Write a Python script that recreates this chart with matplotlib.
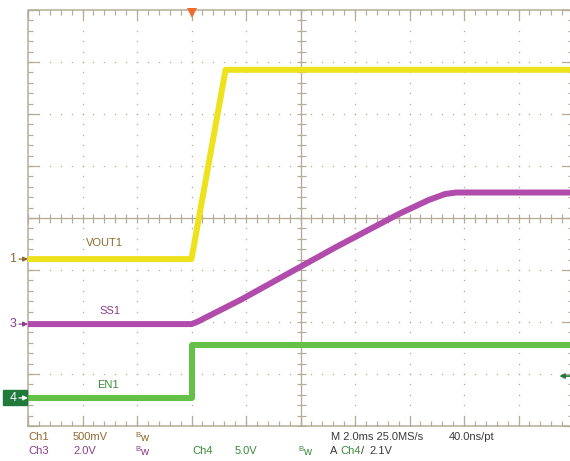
import numpy as np
import matplotlib.pyplot as plt
from matplotlib.patches import Rectangle
import matplotlib.transforms as mtransforms

plt.rcParams['font.family'] = ['Liberation Sans', 'DejaVu Sans']

W, H = 570, 461  # output size in pixels (dpi 100)

# %% Scope settings:
t_div = 2.0      # [ms/div]
t_left = -6.0    # [ms] at left edge of graticule, trigger at 0
ch_names = ['VOUT1', 'SS1', 'EN1']
ch_number = ['1', '3', '4']
ch_scale = [0.5, 2.0, 5.0]          # [V/div] Ch1, Ch3, Ch4
ch_offset = [-0.79, -2.04, -3.46]   # [div] ground markers
trig_level = 2.1                    # [V] on Ch4

# %% Traces:
t_vout = [-6.0, 0.0, 1.25, 14.2]
v_vout = [0.0, 0.0, 1.82, 1.82]
t_ss = [-6.0, 0.0, 0.2, 1.8, 5.3, 7.6, 8.7, 9.3, 9.7, 14.2]
v_ss = [0.0, 0.0, 0.08, 0.93, 2.96, 4.23, 4.77, 5.0, 5.06, 5.06]
t_en = [-6.0, 0.0, 0.0, 14.2]
v_en = [0.0, 0.0, 5.1, 5.1]

# label positions: time [ms], height above ground [div]
lab_t = [-3.2, -3.0, -3.05]
lab_dy = [0.31, 0.25, 0.25]

# %% Colours:
trace_col = ['#eee21c', '#b24cac', '#64c046']
text_col = ['#8f6a2e', '#8c3c8c', '#3a8a3a']
grid_col = '#b4ac96'
dark = '#3a3a3a'

fig = plt.figure(figsize=(W/100, H/100), dpi=100)
fig.patch.set_facecolor('white')

# graticule: left 28 px, top 10 px, 54.5 px/div, 52 px/div
ax = fig.add_axes([28/W, 1 - 426/H, 545/W, 416/H])
ax.set_xlim(t_left, t_left + 10*t_div)
ax.set_ylim(-4, 4)
ax.axis('off')

def px(p):
    return p*0.72  # pixels -> points

xs_major = t_left + t_div*np.arange(11)
ys_major = np.arange(-4, 5)
xs_minor = t_left + t_div*np.arange(0, 10.001, 0.2)
ys_minor = np.arange(-4, 4.001, 0.2)
t_center = t_left + 5*t_div

# dotted grid lines
for x in xs_major[1:-1]:
    if x != t_center:
        ax.plot(np.full_like(ys_minor, x), ys_minor, ls='none', marker='s',
                ms=px(1.3), mew=0, color=grid_col)
for y in ys_major[1:-1]:
    if y != 0:
        ax.plot(xs_minor, np.full_like(xs_minor, y), ls='none', marker='s',
                ms=px(1.3), mew=0, color=grid_col)

# centre cross with ticks
ax.axhline(0, color=grid_col, lw=px(1.3))
ax.axvline(t_center, color=grid_col, lw=px(1.3))
ax.plot(np.full_like(ys_minor, t_center), ys_minor, ls='none', marker='_',
        ms=px(9), mew=px(1.2), color=grid_col)
ax.plot(xs_minor, np.zeros_like(xs_minor), ls='none', marker='|',
        ms=px(9), mew=px(1.2), color=grid_col)

# border with inward ticks
ax.plot([xs_major[0], xs_major[-1], xs_major[-1], xs_major[0], xs_major[0]],
        [-4, -4, 4, 4, -4], color=grid_col, lw=px(1.5), clip_on=False)
for xx, mk in [(xs_minor, 5), (xs_major, 10)]:
    ax.plot(xx, np.full_like(xx, 4.0), ls='none', marker=3, ms=px(mk),
            mew=px(1.2), color=grid_col, clip_on=False)
    ax.plot(xx, np.full_like(xx, -4.0), ls='none', marker=2, ms=px(mk),
            mew=px(1.2), color=grid_col, clip_on=False)
for yy, mk in [(ys_minor, 5), (ys_major, 11)]:
    ax.plot(np.full_like(yy, xs_major[0]), yy, ls='none', marker=1, ms=px(mk),
            mew=px(1.2), color=grid_col, clip_on=False)
    ax.plot(np.full_like(yy, xs_major[-1]), yy, ls='none', marker=0, ms=px(mk),
            mew=px(1.2), color=grid_col, clip_on=False)

# %% Traces:
traces = [(t_vout, v_vout), (t_ss, v_ss), (t_en, v_en)]
for i, (t, v) in enumerate(traces):
    y = np.array(v)/ch_scale[i] + ch_offset[i]
    ax.plot(t, y, color=trace_col[i], lw=px(6), solid_capstyle='butt',
            solid_joinstyle='round', zorder=5)
    ax.text(lab_t[i], ch_offset[i] + lab_dy[i], ch_names[i], color=text_col[i],
            fontsize=8, ha='center', va='center', zorder=6)

# channel ground markers on the left
trans = mtransforms.blended_transform_factory(ax.transAxes, ax.transData)
ax.add_patch(Rectangle((3/W, 1 - 405/H), 24/W, 15/H, transform=fig.transFigure,
                       color='#1f7a3c', clip_on=False, zorder=8))
for i in range(3):
    c = 'white' if i == 2 else text_col[i]
    ax.annotate('', xy=(0, ch_offset[i]), xycoords=trans,
                xytext=(-9, 0), textcoords='offset pixels',
                arrowprops=dict(arrowstyle='-|>', color=c, lw=0.9,
                                mutation_scale=7, shrinkA=0, shrinkB=0),
                zorder=9)
    ax.annotate(ch_number[i], xy=(0, ch_offset[i]), xycoords=trans,
                xytext=(-15, 0), textcoords='offset pixels', color=c,
                fontsize=9, ha='center', va='center', zorder=9)

# trigger position and level
ax.plot([0.0], [4 - 3.5/52], marker='v', ms=px(10), mew=0, color='#f26a2a',
        clip_on=False, zorder=7)
ax.annotate('', xy=(0.975, trig_level/ch_scale[2] + ch_offset[2]), xycoords=trans,
            xytext=(11, 0), textcoords='offset pixels',
            arrowprops=dict(arrowstyle='-|>', color='#1f7a3c', lw=1.2,
                            mutation_scale=7, shrinkA=0, shrinkB=0))

# %% Readout at the bottom:
bw = r'$\mathregular{^{B}w}$'
readout = [
    (28, 437, 'Ch1', text_col[0]), (73, 437, '500mV', text_col[0]),
    (135, 437, bw, text_col[0]),
    (331, 437, 'M 2.0ms 25.0MS/s', dark), (449, 437, '40.0ns/pt', dark),
    (28, 451, 'Ch3', text_col[1]), (73, 451, '2.0V', text_col[1]),
    (135, 451, bw, text_col[1]),
    (192, 451, 'Ch4', text_col[2]), (235, 451, '5.0V', text_col[2]),
    (298, 451, bw, text_col[2]),
    (330, 451, 'A', dark), (340, 451, 'Ch4', text_col[2]),
    (361, 451, '/', dark), (369, 451, '2.1V', dark),
]
for x, y, s, c in readout:
    fig.text(x/W, 1 - y/H, s, color=c, fontsize=8, ha='left', va='center')

fig.savefig('out.png', dpi=100)
